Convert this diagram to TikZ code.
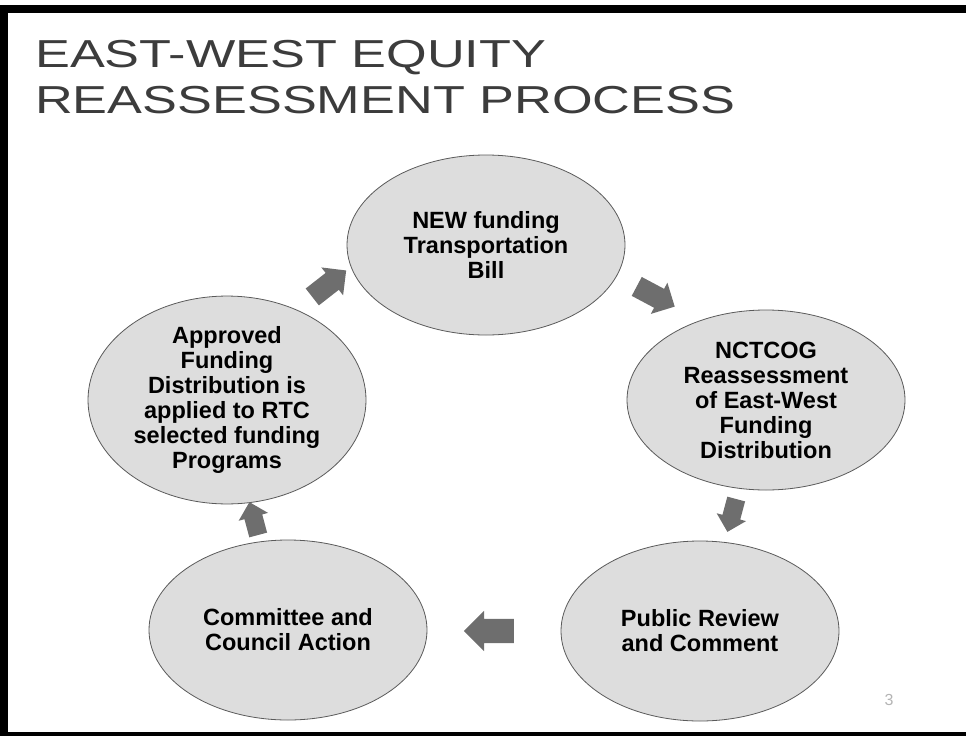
\documentclass[tikz,border=0pt]{standalone}
\usepackage{fontspec}
\setmainfont{Liberation Sans}
\usepackage{graphicx}
\usepackage{tikz}
\usetikzlibrary{
  positioning,
  shapes.geometric,
  shapes.arrows
}
\definecolor{ovalfill}{HTML}{DDDDDD}
\definecolor{ovalline}{HTML}{5A5A5A}
\definecolor{arrowgray}{HTML}{6E6E6E}
\definecolor{titlegray}{HTML}{3C3C3C}
\definecolor{pagegray}{HTML}{B4B4B4}

\begin{document}
\begin{tikzpicture}[
  x=1pt, y=-1pt,
  oval/.style={ellipse, draw=ovalline, line width=0.8pt, fill=ovalfill,
    minimum width=278pt, minimum height=180pt, inner sep=0pt, align=center,
    font=\fontsize{23.5}{25}\selectfont\bfseries},
  cyclearrow/.style n args={3}{single arrow, fill=arrowgray, draw=none,
    inner xsep=0pt, inner ysep=#2, minimum width=0pt,
    minimum height=#1, single arrow head extend=#3},
  title/.style={anchor=base west, inner sep=0pt, text=titlegray,
    font=\fontsize{39}{46}\selectfont},
  pagenum/.style={text=pagegray, font=\fontsize{16}{16}\selectfont},
]
  \useasboundingbox (0,0) rectangle (966,736);

  % Frame
  \fill (0,5) rectangle (966,13);
  \fill (0,5) rectangle (8,736);
  \fill (0,732) rectangle (966,736);

  % Title
  \node[title] (ttl) at (35,67) {\scalebox{1.34}[1]{EAST-WEST EQUITY}};
  \node[title] (ttl2) at (35,113) {\scalebox{1.34}[1]{REASSESSMENT PROCESS}};

  % Steps
  \node[oval] (bill) at (486,245) {NEW funding\\Transportation\\Bill};
  \node[oval] (nctcog) at (766,400) {NCTCOG\\Reassessment\\of East-West\\Funding\\Distribution};
  \node[oval] (review) at (700,631) {Public Review\\and Comment};
  \node[oval] (council) at (288,630) {Committee and\\Council Action};
  \node[oval] (applied) at (227,400) {Approved\\Funding\\Distribution is\\applied to RTC\\selected funding\\Programs};

  % Cycle arrows
  \node[cyclearrow={43pt}{10.5pt}{7pt}, rotate=38] (a1) at (325,287) {};
  \node[cyclearrow={43pt}{10.5pt}{7pt}, rotate=-28] (a2) at (651,294) {};
  \node[cyclearrow={34pt}{9pt}{6pt}, rotate=-105] (a3) at (733,511) {};
  \node[cyclearrow={50pt}{12pt}{8pt}, rotate=180] (a4) at (495,631) {};
  \node[cyclearrow={34pt}{9pt}{6pt}, rotate=105] (a5) at (255,523) {};

  \node[pagenum] (pg) at (889,700) {3};
\end{tikzpicture}
\end{document}
